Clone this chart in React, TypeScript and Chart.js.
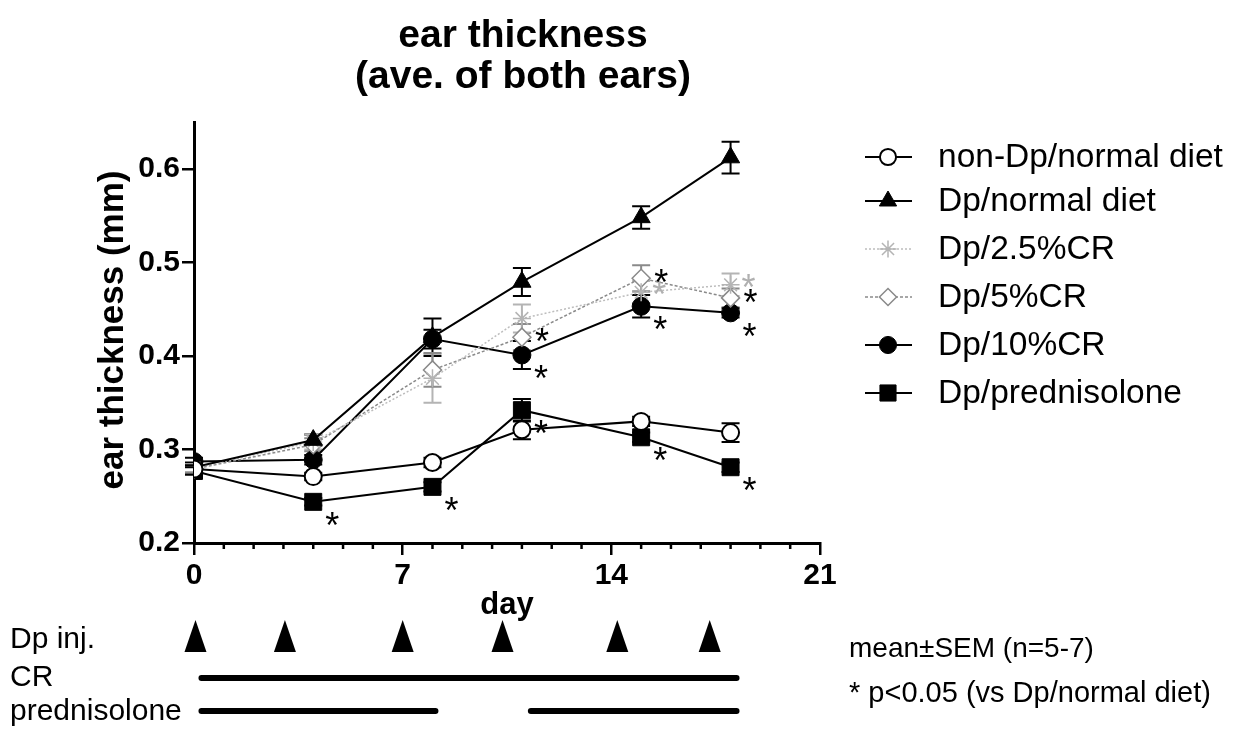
import React, { useEffect, useRef } from 'react';
import { Chart, registerables } from 'chart.js';
import { drawPoint } from 'chart.js/helpers';

Chart.register(...registerables);

// ---- data ----
const days = [0, 4, 8, 11, 15, 18];
const seriesNames = [
  'non-Dp/normal diet',
  'Dp/normal diet',
  'Dp/2.5%CR',
  'Dp/5%CR',
  'Dp/10%CR',
  'Dp/prednisolone',
];
const nonDpNormal = [0.279, 0.271, 0.286, 0.321, 0.330, 0.318];
const nonDpNormalSem = [0.004, 0.004, 0.005, 0.010, 0.005, 0.010];
const dpNormal = [0.281, 0.310, 0.420, 0.479, 0.548, 0.612];
const dpNormalSem = [0.005, 0.006, 0.020, 0.015, 0.012, 0.017];
const dpCr25 = [0.280, 0.308, 0.376, 0.440, 0.468, 0.476];
const dpCr25Sem = [0.004, 0.008, 0.026, 0.015, 0.012, 0.012];
const dpCr5 = [0.279, 0.305, 0.385, 0.420, 0.483, 0.462];
const dpCr5Sem = [0.004, 0.007, 0.018, 0.014, 0.014, 0.010];
const dpCr10 = [0.287, 0.289, 0.418, 0.401, 0.453, 0.446];
const dpCr10Sem = [0.004, 0.005, 0.010, 0.015, 0.012, 0.005];
const dpPred = [0.277, 0.244, 0.260, 0.342, 0.313, 0.281];
const dpPredSem = [0.004, 0.004, 0.005, 0.012, 0.005, 0.005];

// p<0.05 vs Dp/normal diet
const sigNonDp = [false, false, false, false, false, false];
const sigDpNormal = [false, false, false, false, false, false];
const sigCr25 = [false, false, false, false, true, true];
const sigCr5 = [false, false, false, true, true, true];
const sigCr10 = [false, false, false, true, true, true];
const sigPred = [false, true, true, true, true, true];

const xTicks = [0, 7, 14, 21];
const yTicks = [0.2, 0.3, 0.4, 0.5, 0.6];

// treatment schedule (day units)
const injectionDays = [0.05, 3.05, 7, 10.35, 14.2, 17.3];
const crPeriods = [[0.25, 18.2]];
const predPeriods = [[0.25, 8.1], [11.3, 18.2]];

const titleLines = ['ear thickness', '(ave. of both ears)'];
const yTitle = 'ear thickness (mm)';
const xTitle = 'day';
const scheduleLabels = ['Dp inj.', 'CR', 'prednisolone'];
const notes = ['mean\u00b1SEM (n=5-7)', '* p<0.05 (vs Dp/normal diet)'];

const values = [nonDpNormal, dpNormal, dpCr25, dpCr5, dpCr10, dpPred];
const sems = [nonDpNormalSem, dpNormalSem, dpCr25Sem, dpCr5Sem, dpCr10Sem, dpPredSem];
const sigs = [sigNonDp, sigDpNormal, sigCr25, sigCr5, sigCr10, sigPred];

// ---- styles ----
const FONT = '"Liberation Sans", Arial, Helvetica, sans-serif';
type Sty = {
  line: string; lineWidth: number; dash: number[];
  pointStyle: string; radius: number; fill: string; border: string; borderWidth: number;
  err: string; star: string; starDx: number; starDy: number;
};
const styles: Sty[] = [
  { line: '#000', lineWidth: 2, dash: [], pointStyle: 'circle', radius: 8.5, fill: '#fff', border: '#000', borderWidth: 2, err: '#000', star: '#000', starDx: 19, starDy: 14 },
  { line: '#000', lineWidth: 2, dash: [], pointStyle: 'triangle', radius: 10.5, fill: '#000', border: '#000', borderWidth: 1, err: '#000', star: '#000', starDx: 19, starDy: 14 },
  { line: '#bdbdbd', lineWidth: 1.5, dash: [2, 2], pointStyle: 'star', radius: 9, fill: '#fff', border: '#b4b4b4', borderWidth: 1.5, err: '#b4b4b4', star: '#b0b0b0', starDx: 18, starDy: -6 },
  { line: '#8a8a8a', lineWidth: 1.5, dash: [3, 2], pointStyle: 'rectRot', radius: 9, fill: '#fff', border: '#8a8a8a', borderWidth: 1.5, err: '#8a8a8a', star: '#000', starDx: 20, starDy: -4 },
  { line: '#000', lineWidth: 2, dash: [], pointStyle: 'circle', radius: 9, fill: '#000', border: '#000', borderWidth: 1, err: '#000', star: '#000', starDx: 19, starDy: 15 },
  { line: '#000', lineWidth: 2, dash: [], pointStyle: 'rect', radius: 12, fill: '#000', border: '#000', borderWidth: 1, err: '#000', star: '#000', starDx: 19, starDy: 15 },
];

const CHART_LEFT = 194;
const CHART_RIGHT = 820;
const CHART_TOP = 122;
const CHART_BOTTOM = 543;
const W = 1236;
const H = 732;
const X_AXIS_H = 60;

const errorBarPlugin = {
  id: 'errorBars',
  beforeDatasetsDraw(chart: any) {
    const { ctx } = chart;
    const ys = chart.scales.y;
    values.forEach((vals, i) => {
      const meta = chart.getDatasetMeta(i);
      const st = styles[i];
      ctx.save();
      ctx.strokeStyle = st.err;
      ctx.lineWidth = 2;
      vals.forEach((v, j) => {
        const x = meta.data[j].x;
        const yt = ys.getPixelForValue(v + sems[i][j]);
        const yb = ys.getPixelForValue(v - sems[i][j]);
        ctx.beginPath();
        ctx.moveTo(x, yt); ctx.lineTo(x, yb);
        ctx.moveTo(x - 9, yt); ctx.lineTo(x + 9, yt);
        ctx.moveTo(x - 9, yb); ctx.lineTo(x + 9, yb);
        ctx.stroke();
      });
      ctx.restore();
    });
  },
  afterDatasetsDraw(chart: any) {
    const { ctx } = chart;
    ctx.save();
    ctx.font = `36px ${FONT}`;
    ctx.textAlign = 'center';
    ctx.textBaseline = 'alphabetic';
    sigs.forEach((flags, i) => {
      const meta = chart.getDatasetMeta(i);
      const st = styles[i];
      ctx.fillStyle = st.star;
      flags.forEach((f, j) => {
        if (!f) return;
        const p = meta.data[j];
        ctx.fillText('*', p.x + st.starDx, p.y + st.starDy + 21);
      });
    });
    ctx.restore();
  },
};

const decorPlugin = {
  id: 'decor',
  afterDraw(chart: any) {
    const { ctx } = chart;
    const xs = chart.scales.x;
    ctx.save();

    // minor day ticks
    ctx.strokeStyle = '#000';
    ctx.lineWidth = 2.5;
    for (let d = 0; d <= 21; d++) {
      if (xTicks.includes(d)) continue;
      const x = xs.getPixelForValue(d);
      ctx.beginPath();
      ctx.moveTo(x, CHART_BOTTOM);
      ctx.lineTo(x, CHART_BOTTOM + 6);
      ctx.stroke();
    }

    // title
    ctx.fillStyle = '#000';
    ctx.textAlign = 'center';
    ctx.textBaseline = 'alphabetic';
    ctx.font = `bold 39px ${FONT}`;
    ctx.fillText(titleLines[0], 523, 47);
    ctx.fillText(titleLines[1], 523, 88);

    // axis titles
    ctx.font = `bold 31px ${FONT}`;
    ctx.fillText(xTitle, (CHART_LEFT + CHART_RIGHT) / 2, 614);
    ctx.save();
    ctx.translate(113, 330);
    ctx.rotate(-Math.PI / 2);
    ctx.font = `bold 35px ${FONT}`;
    ctx.textBaseline = 'middle';
    ctx.fillText(yTitle, 0, 0);
    ctx.restore();

    // legend
    const rowY = [157, 201, 249, 297, 345, 393];
    seriesNames.forEach((name, i) => {
      const st = styles[i];
      const y = rowY[i];
      ctx.save();
      ctx.strokeStyle = st.line;
      ctx.lineWidth = st.lineWidth;
      ctx.setLineDash(st.dash);
      ctx.beginPath();
      ctx.moveTo(865, y); ctx.lineTo(912, y);
      ctx.stroke();
      ctx.setLineDash([]);
      ctx.fillStyle = st.fill;
      ctx.strokeStyle = st.border;
      ctx.lineWidth = st.borderWidth;
      drawPoint(ctx, { pointStyle: st.pointStyle as any, rotation: 0, radius: st.radius * 0.95, borderWidth: st.borderWidth }, 888, y);
      ctx.restore();
      ctx.fillStyle = '#000';
      ctx.font = `33.5px ${FONT}`;
      ctx.textAlign = 'left';
      ctx.textBaseline = 'middle';
      ctx.fillText(name, 938, y + 1);
    });

    // treatment schedule
    ctx.fillStyle = '#000';
    ctx.font = `30px ${FONT}`;
    ctx.textAlign = 'left';
    ctx.textBaseline = 'alphabetic';
    ctx.fillText(scheduleLabels[0], 10, 648);
    ctx.fillText(scheduleLabels[1], 10, 686);
    ctx.fillText(scheduleLabels[2], 10, 720);

    injectionDays.forEach((d) => {
      const x = xs.getPixelForValue(d);
      ctx.beginPath();
      ctx.moveTo(x, 620);
      ctx.lineTo(x + 11, 652);
      ctx.lineTo(x - 11, 652);
      ctx.closePath();
      ctx.fill();
    });

    ctx.strokeStyle = '#000';
    ctx.lineWidth = 6;
    ctx.lineCap = 'round';
    const bar = (periods: number[][], y: number) => {
      periods.forEach(([a, b]) => {
        ctx.beginPath();
        ctx.moveTo(xs.getPixelForValue(a), y);
        ctx.lineTo(xs.getPixelForValue(b), y);
        ctx.stroke();
      });
    };
    bar(crPeriods, 678);
    bar(predPeriods, 711);

    // notes
    ctx.font = `28px ${FONT}`;
    ctx.fillText(notes[0], 849, 657);
    ctx.font = `29px ${FONT}`;
    ctx.fillText(notes[1], 849, 702);

    ctx.restore();
  },
};

export default function App() {
  const ref = useRef<HTMLCanvasElement | null>(null);

  useEffect(() => {
    if (!ref.current) return;
    const datasets = seriesNames.map((name, i) => {
      const st = styles[i];
      return {
        label: name,
        data: days.map((d, j) => ({ x: d, y: values[i][j] })),
        borderColor: st.line,
        borderWidth: st.lineWidth,
        borderDash: st.dash,
        pointStyle: st.pointStyle,
        pointRadius: st.radius,
        pointBackgroundColor: st.fill,
        pointBorderColor: st.border,
        pointBorderWidth: st.borderWidth,
        fill: false,
        tension: 0,
      };
    });

    const chart = new Chart(ref.current, {
      type: 'line',
      data: { datasets } as any,
      options: {
        responsive: false,
        animation: false,
        events: [],
        layout: {
          padding: {
            left: 0,
            right: W - CHART_RIGHT,
            top: CHART_TOP,
            bottom: H - CHART_BOTTOM - X_AXIS_H,
          },
        },
        plugins: {
          legend: { display: false },
          title: { display: false },
          tooltip: { enabled: false },
        },
        scales: {
          x: {
            type: 'linear',
            min: 0,
            max: 21,
            afterFit: (s: any) => { s.height = X_AXIS_H; },
            afterBuildTicks: (s: any) => { s.ticks = xTicks.map((v) => ({ value: v })); },
            ticks: {
              color: '#000',
              font: { family: FONT, size: 30, weight: 'bold' },
              padding: 3,
              maxRotation: 0,
              callback: (v: any) => String(v),
            },
            grid: { drawOnChartArea: false, tickLength: 12, color: '#000', lineWidth: 2.5 },
            border: { color: '#000', width: 3 },
          },
          y: {
            type: 'linear',
            min: 0.2,
            max: 0.65,
            afterFit: (s: any) => { s.width = CHART_LEFT; },
            afterBuildTicks: (s: any) => { s.ticks = yTicks.map((v) => ({ value: v })); },
            ticks: {
              color: '#000',
              font: { family: FONT, size: 30, weight: 'bold' },
              padding: 2,
              callback: (v: any) => Number(v).toFixed(1),
            },
            grid: { drawOnChartArea: false, tickLength: 12, color: '#000', lineWidth: 2.5 },
            border: { color: '#000', width: 3 },
          },
        },
      } as any,
      plugins: [errorBarPlugin, decorPlugin],
    });
    return () => chart.destroy();
  }, []);

  return (
    <div style={{ position: 'absolute', left: 0, top: 0, width: W, height: H, background: '#fff' }}>
      <canvas ref={ref} width={W} height={H} style={{ width: W, height: H, display: 'block' }} />
    </div>
  );
}
